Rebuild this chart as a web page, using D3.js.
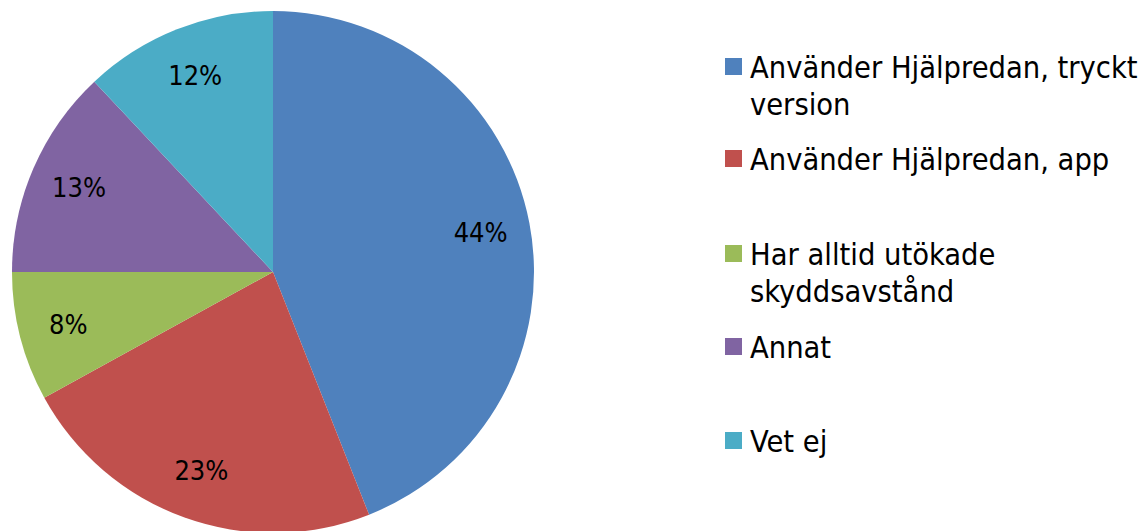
<!DOCTYPE html>
<html>
<head>
<meta charset="utf-8">
<script src="https://cdn.jsdelivr.net/npm/d3@7"></script>
<style>
  html, body { margin: 0; padding: 0; background: #fff; }
  svg { display: block; }
  text { font-family: 'DejaVu Sans Condensed', 'DejaVu Sans', sans-serif; font-stretch: condensed; fill: #000; }
</style>
</head>
<body>
<div id="chart"></div>
<script>
// legend text, split into lines as in the original
const categories = [
  ['Använder Hjälpredan, tryckt', 'version'],
  ['Använder Hjälpredan, app'],
  ['Har alltid utökade', 'skyddsavstånd'],
  ['Annat'],
  ['Vet ej']
]
const values = [44, 23, 8, 13, 12]
const colors = ['#4F81BD', '#C0504D', '#9BBB59', '#8064A2', '#4BACC6']
// legend rows baselines (first line) from the picture
const legendRows = [78, 170, 265, 358, 452]

const width = 1143
const height = 531
const center = { x: 273, y: 272 }
const radius = 261

const svg = d3.select('#chart')
  .append('svg')
  .attr('width', width)
  .attr('height', height)

const pie = d3.pie().sort(null).value((d) => d)
const arcs = pie(values)

const arc = d3.arc().innerRadius(0).outerRadius(radius)
const labelArc = d3.arc().innerRadius(radius * 0.81).outerRadius(radius * 0.81)

const pieGroup = svg.append('g')
  .attr('transform', `translate(${center.x},${center.y})`)

pieGroup.selectAll('path')
  .data(arcs)
  .enter()
  .append('path')
  .attr('d', arc)
  .attr('fill', (d, i) => colors[i])

pieGroup.selectAll('text')
  .data(arcs)
  .enter()
  .append('text')
  .attr('transform', (d) => `translate(${labelArc.centroid(d)})`)
  .attr('text-anchor', 'middle')
  .attr('dy', '0.35em')
  .style('font-size', '27px')
  .text((d) => `${d.data}%`)

// legend
const legend = svg.append('g').attr('class', 'legend')

categories.forEach((lines, i) => {
  const y = legendRows[i]
  legend.append('rect')
    .attr('x', 725)
    .attr('y', y - 20)
    .attr('width', 17)
    .attr('height', 17)
    .attr('fill', colors[i])

  const t = legend.append('text')
    .attr('x', 750)
    .attr('y', y)
    .style('font-size', '30.5px')

  lines.forEach((line, j) => {
    t.append('tspan')
      .attr('x', 750)
      .attr('dy', j === 0 ? 0 : 37)
      .text(line)
  })
})
</script>
</body>
</html>
